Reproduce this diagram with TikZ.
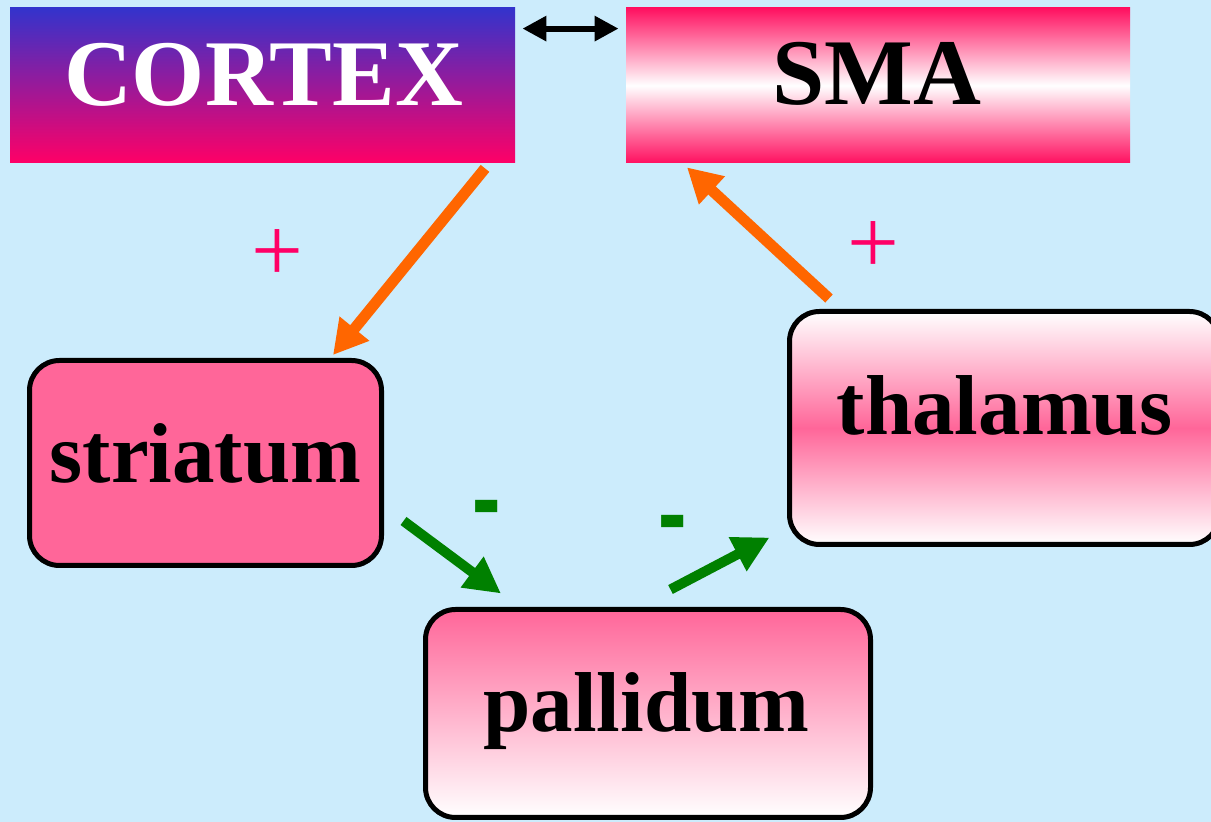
\documentclass[tikz,border=0pt]{standalone}
\usepackage{fontspec}
\setmainfont{Liberation Serif}
\usetikzlibrary{arrows.meta,calc}

\definecolor{bgblue}{RGB}{204,236,252}
\definecolor{ctxblue}{RGB}{51,51,204}
\definecolor{hotpink}{RGB}{255,0,102}
\definecolor{smapink}{RGB}{255,16,96}
\definecolor{rosefill}{RGB}{255,102,153}
\definecolor{arrorange}{RGB}{255,102,0}
\definecolor{arrgreen}{RGB}{0,128,0}

\tikzset{
  titlebox/.style={rectangle, inner sep=0pt, minimum width=#1},
  roundbox/.style={rectangle, draw=black, line width=2.5pt, rounded corners=15pt, inner sep=0pt},
  titletext/.style={inner sep=0pt, anchor=base, font=\fontsize{47pt}{54pt}\selectfont\bfseries},
  boxtext/.style={inner sep=0pt, anchor=base, font=\fontsize{42.5pt}{50pt}\selectfont\bfseries, text=black},
  excite/.style={line width=5.5pt, arrorange, -{Triangle[length=17pt,width=18pt]}},
  inhibit/.style={line width=5pt, arrgreen, -{Triangle[length=18pt,width=18pt]}},
  plussign/.style={inner sep=0pt, text=hotpink, font=\fontsize{46pt}{50pt}\selectfont},
  minussign/.style={inner sep=0pt, text=arrgreen, font=\fontsize{42.5pt}{50pt}\selectfont\bfseries},
}

\begin{document}
\begin{tikzpicture}[x=0.5pt, y=-0.5pt]
  \useasboundingbox (0,0) rectangle (1211,822);
  \fill[bgblue] (0,0) rectangle (1211,822);

  % top row: cortex and supplementary motor area
  \node[titlebox=252.5pt, minimum height=77.5pt, top color=ctxblue, bottom color=hotpink]
    (cortex) at (262.5,85.5) {};
  \node[titlebox=252pt, minimum height=77.5pt, top color=smapink, bottom color=smapink, middle color=white]
    (sma) at (878,85.5) {};
  \node[titletext, text=white] (cortextext) at ($(cortex.center)+(1,20.5)$) {CORTEX};
  \node[titletext, text=black] (smatext) at ($(sma.center)+(-1,19.5)$) {SMA};

  % basal ganglia loop boxes
  \node[roundbox, minimum width=176pt, minimum height=102.5pt, fill=rosefill]
    (striatum) at (205.5,463) {};
  \node[roundbox, minimum width=215pt, minimum height=116.5pt,
        top color=white, bottom color=white, middle color=rosefill]
    (thalamus) at (1004.5,428) {};
  \node[roundbox, minimum width=222.5pt, minimum height=104pt,
        top color=rosefill, bottom color=white]
    (pallidum) at (648,713.5) {};

  \node[boxtext] (striatumtext) at ($(striatum.center)+(0,20)$) {striatum};
  \node[boxtext] (thalamustext) at ($(thalamus.center)+(0,7)$) {thalamus};
  \node[boxtext] (pallidumtext) at ($(pallidum.center)+(-1.5,18.5)$) {pallidum};

  % reciprocal link between cortex and SMA
  \draw[line width=3pt, {Triangle[length=12pt,width=12pt]}-{Triangle[length=12pt,width=12pt]}]
    ($(cortex.north east)+(7,21)$) -- ($(sma.north west)+(-7,21)$);

  % excitatory projections
  \draw[excite] ($(cortex.south)+(222.5,5)$) -- ($(striatum.north)+(127.5,-3)$);
  \draw[excite] ($(thalamus.north)+(-175.5,-10.5)$) -- ($(sma.south)+(-191,4)$);

  % inhibitory projections
  \draw[inhibit] ($(striatum.east)+(19.5,58)$) -- ($(pallidum.north)+(-147,-13.5)$);
  \draw[inhibit] ($(pallidum.north)+(22.5,-17.5)$) -- ($(thalamus.south west)+(-17.5,-9.5)$);

  % signs of the projections
  \node[plussign] (plusleft) at (277.5,255.5) {+};
  \node[plussign] (plusright) at (873,248) {+};
  \node[minussign] (minusleft) at (487,520) {\scalebox{1}[1.7]{-}};
  \node[minussign] (minusright) at (673,535.5) {\scalebox{1}[1.7]{-}};
\end{tikzpicture}
\end{document}
